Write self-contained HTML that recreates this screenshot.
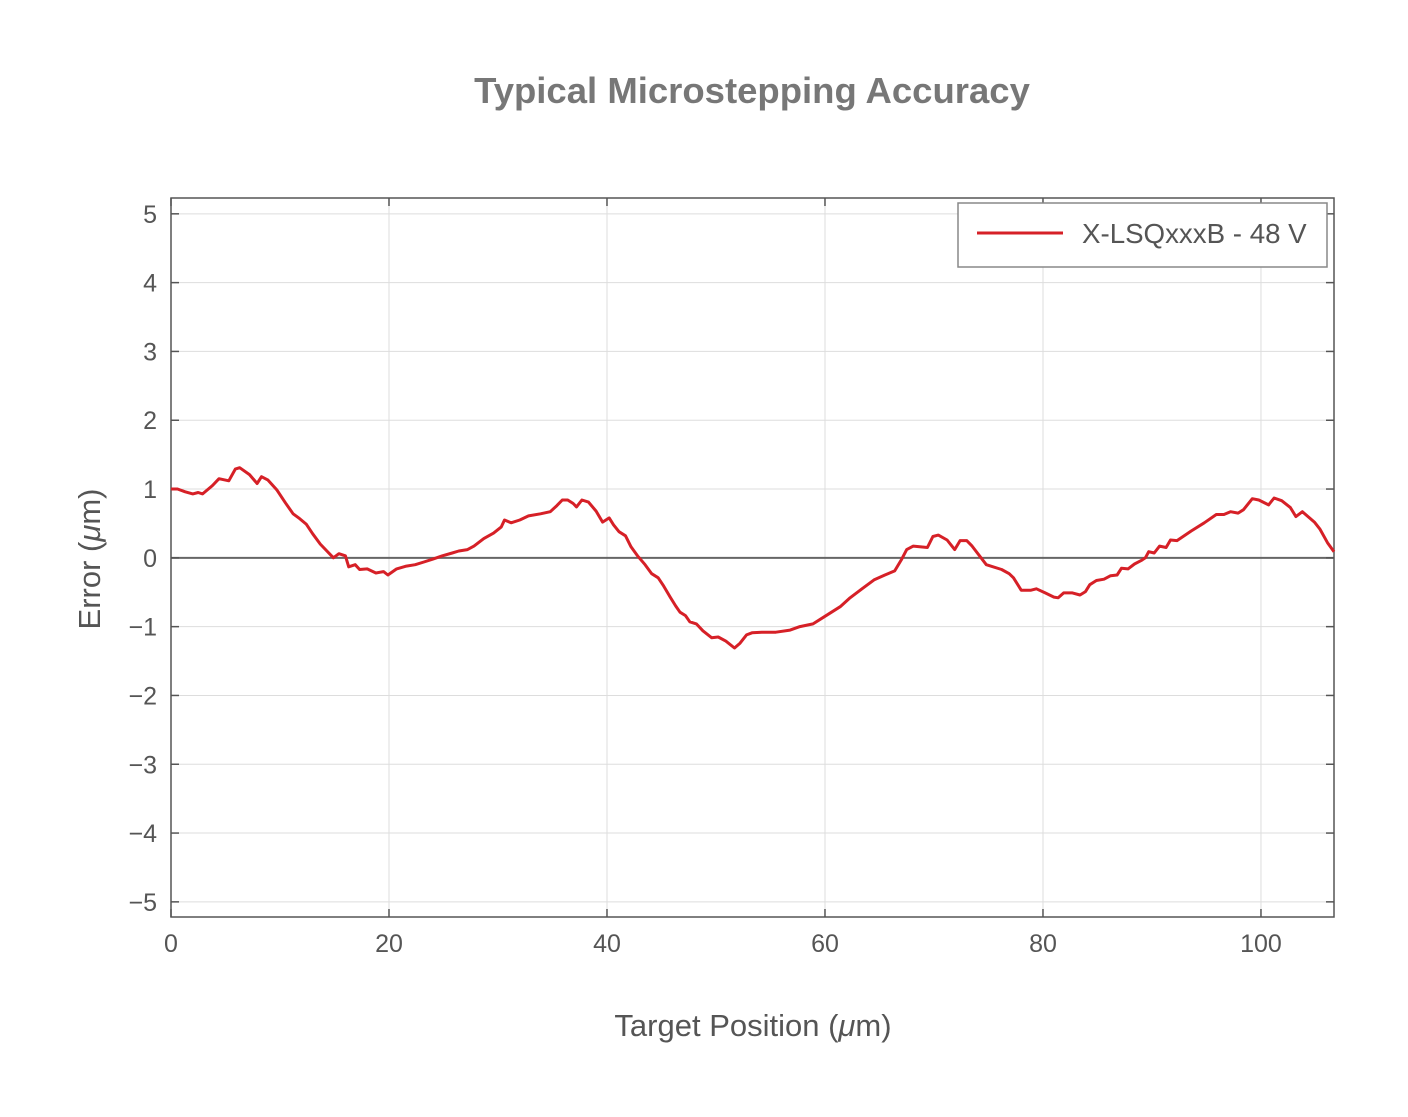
<!DOCTYPE html>
<html><head><meta charset="utf-8"><style>
html,body{margin:0;padding:0;background:#fff;}
svg{display:block;font-family:"Liberation Sans",Arial,sans-serif;}
</style></head><body>
<svg id="chart" width="1408" height="1117" viewBox="0 0 1408 1117" xmlns="http://www.w3.org/2000/svg">
<rect x="0" y="0" width="1408" height="1117" fill="#fff"/>
<text x="752" y="103" text-anchor="middle" font-size="36.5" font-weight="bold" fill="#777">Typical Microstepping Accuracy</text>
<g id="grid"></g>
<g id="axes"></g>
<g id="series"></g>
<text x="753" y="1036" text-anchor="middle" font-size="31" fill="#555">Target Position (<tspan font-style="italic">μ</tspan>m)</text>
<text transform="translate(100,559) rotate(-90)" text-anchor="middle" font-size="31" fill="#555">Error (<tspan font-style="italic">μ</tspan>m)</text>
<g>
<rect x="958" y="203" width="369" height="64" fill="#fff" stroke="#888" stroke-width="1.5"/>
<line x1="977" y1="233" x2="1063" y2="233" stroke="#d62027" stroke-width="3"/>
<text x="1082" y="243" font-size="27.7" fill="#555">X-LSQxxxB - 48 V</text>
</g>
</svg>
<script>
const xValues = [0,0.6,1.3,2.0,2.5,2.9,3.8,4.4,5.3,5.9,6.3,7.2,7.9,8.3,8.9,9.7,10.5,11.2,11.8,12.4,13.0,13.7,14.3,14.9,15.4,16.0,16.3,16.9,17.3,18.0,18.8,19.5,19.9,20.7,21.6,22.4,23.2,24.0,24.9,25.8,26.4,27.2,27.8,28.7,29.6,30.3,30.6,31.2,32.0,32.8,33.9,34.8,35.4,35.9,36.4,36.9,37.2,37.7,38.3,39.0,39.6,40.2,40.6,41.1,41.7,42.2,42.8,43.5,44.1,44.7,45.2,45.8,46.3,46.7,47.2,47.6,48.2,48.8,49.6,50.2,50.9,51.7,52.2,52.8,53.3,54.2,55.5,56.8,57.7,58.9,59.8,61.4,62.3,63.4,64.5,65.5,66.4,67.0,67.5,68.1,69.4,69.9,70.4,71.2,71.9,72.4,73.0,73.5,74.8,76.2,76.9,77.3,78.0,78.9,79.4,80.2,81.0,81.4,81.9,82.7,83.4,83.9,84.3,84.9,85.6,86.2,86.8,87.2,87.8,88.4,89.0,89.4,89.7,90.2,90.7,91.3,91.7,92.3,93.6,94.8,95.9,96.6,97.2,97.9,98.4,99.2,99.8,100.7,101.2,101.9,102.7,103.2,103.8,104.9,105.4,106.1,106.7];
const errValues = [1.0,1.0,0.96,0.93,0.95,0.93,1.05,1.15,1.12,1.29,1.31,1.21,1.08,1.18,1.13,0.99,0.80,0.64,0.57,0.49,0.35,0.20,0.10,0.0,0.06,0.03,-0.13,-0.10,-0.17,-0.16,-0.22,-0.20,-0.25,-0.16,-0.12,-0.10,-0.06,-0.02,0.03,0.07,0.10,0.12,0.17,0.28,0.36,0.45,0.55,0.51,0.55,0.61,0.64,0.67,0.76,0.84,0.84,0.79,0.74,0.84,0.81,0.68,0.52,0.58,0.48,0.38,0.32,0.16,0.03,-0.10,-0.23,-0.29,-0.41,-0.57,-0.70,-0.79,-0.84,-0.93,-0.96,-1.06,-1.16,-1.15,-1.21,-1.31,-1.24,-1.12,-1.09,-1.08,-1.08,-1.05,-1.00,-0.96,-0.87,-0.71,-0.58,-0.45,-0.32,-0.25,-0.19,-0.03,0.12,0.17,0.15,0.31,0.33,0.26,0.12,0.25,0.25,0.17,-0.10,-0.17,-0.23,-0.29,-0.47,-0.47,-0.45,-0.51,-0.57,-0.58,-0.51,-0.51,-0.54,-0.49,-0.39,-0.33,-0.31,-0.26,-0.25,-0.15,-0.16,-0.09,-0.04,0.0,0.09,0.07,0.17,0.15,0.26,0.25,0.39,0.51,0.63,0.63,0.67,0.65,0.70,0.86,0.84,0.77,0.87,0.83,0.73,0.60,0.67,0.52,0.42,0.22,0.09];
const xTicks = [0,20,40,60,80,100];
const yTicks = [-5,-4,-3,-2,-1,0,1,2,3,4,5];
const xMin = 0, xMax = 106.7, yMin = -5.22, yMax = 5.23;

const L=171,R=1334,T=198,B=917;
const NS="http://www.w3.org/2000/svg";
const sx = v => L + (v - xMin) / (xMax - xMin) * (R - L);
const sy = v => B - (v - yMin) / (yMax - yMin) * (B - T);
function mk(tag, attrs, parent){const e=document.createElementNS(NS,tag);for(const k in attrs)e.setAttribute(k,attrs[k]);parent.appendChild(e);return e;}
const grid=document.getElementById('grid'), axes=document.getElementById('axes'), series=document.getElementById('series');

xTicks.forEach(t=>{
  const x=sx(t);
  const g=mk('line',{x1:x,y1:T,x2:x,y2:B,stroke:'#ddd','stroke-width':1},grid);
  
  
  const tk=mk('line',{x1:x,y1:B,x2:x,y2:B-8,stroke:'#555','stroke-width':1.5},axes);
  
  
  const tk2=mk('line',{x1:x,y1:T,x2:x,y2:T+8,stroke:'#555','stroke-width':1.5},axes);
  
  
  const lb=mk('text',{x:x,y:B+35,'text-anchor':'middle','font-size':25,fill:'#555'},axes);
  lb.textContent=String(t);
  
  
});
yTicks.forEach(t=>{
  const y=sy(t);
  const g=mk('line',{x1:L,y1:y,x2:R,y2:y,stroke:t===0?'#666':'#ddd','stroke-width':t===0?2:1},grid);
  
  
  const tk=mk('line',{x1:L,y1:y,x2:L+8,y2:y,stroke:'#555','stroke-width':1.5},axes);
  
  
  const tk2=mk('line',{x1:R,y1:y,x2:R-8,y2:y,stroke:'#555','stroke-width':1.5},axes);
  
  
  const lb=mk('text',{x:L-14,y:y+9,'text-anchor':'end','font-size':25,fill:'#555'},axes);
  lb.textContent=t<0?'\u2212'+Math.abs(t):String(t);
  
  
});
const frame=mk('rect',{x:L,y:T,width:R-L,height:B-T,fill:'none',stroke:'#555','stroke-width':1.5},axes);



const d=xValues.map((v,i)=>(i?'L':'M')+sx(v).toFixed(1)+','+sy(errValues[i]).toFixed(1)).join(' ');
const line=mk('path',{d:d,fill:'none',stroke:'#d62027','stroke-width':3,'stroke-linejoin':'round'},series);


</script>
</body></html>
